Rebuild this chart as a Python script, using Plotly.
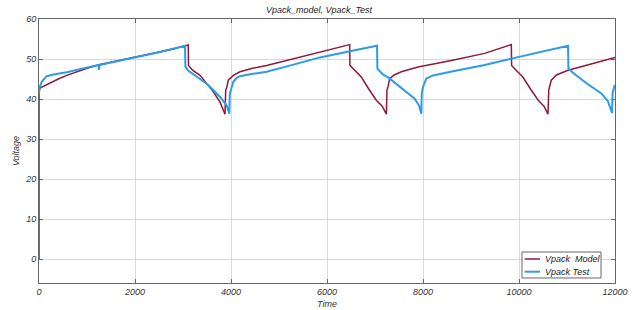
import plotly.graph_objects as go

# Model series (time, voltage)
t_model = [0, 0, 30, 125, 250, 400, 577, 800, 1000, 1271, 1600, 2000, 2500, 2800, 3076, 3110,
           3115, 3200, 3354, 3500, 3632, 3771, 3875, 3890, 3910, 3944, 4050, 4187, 4450, 4743,
           5300, 5854, 6200, 6472, 6478, 6560, 6715, 6870, 7027, 7150, 7236, 7250, 7270, 7306,
           7400, 7548, 7896, 8590, 9285, 9840, 9846, 9930, 10080, 10240, 10400, 10520, 10604,
           10620, 10640, 10673, 10780, 11021, 11368, 12000]
v_model = [0, 42.2, 42.8, 43.4, 44.2, 45.0, 45.9, 46.9, 47.7, 48.6, 49.4, 50.4, 51.7, 52.5, 53.4, 53.5,
           48.4, 47.2, 45.9, 43.8, 41.8, 39.2, 36.2, 42.3, 42.8, 44.7, 45.9, 46.8, 47.7, 48.4,
           50.1, 51.8, 52.8, 53.6, 48.4, 47.4, 45.5, 42.5, 39.7, 38.2, 36.2, 42.3, 43.0, 45.1,
           46.0, 46.8, 48.0, 49.6, 51.4, 53.6, 48.4, 47.3, 45.5, 42.5, 39.7, 38.2, 36.2,
           42.3, 43.0, 44.7, 46.0, 47.2, 48.3, 50.4]

# Test series (time, voltage)
t_test = [0, 20, 56, 160, 300, 577, 900, 1240, 1250, 1260, 1600, 2000, 2500, 3042,
          3050, 3100, 3146, 3300, 3493, 3650, 3771, 3910, 3965, 3975, 4000, 4048, 4120, 4187,
          4400, 4743, 5300, 5854, 6500, 7042, 7050, 7150, 7306, 7550, 7827, 7920, 7965,
          7975, 8000, 8069, 8208, 8600, 9285, 9840, 10400, 11021, 11030, 11150, 11400,
          11715, 11850, 11938, 11950, 11993]
v_test = [41.5, 43.2, 44.3, 45.7, 46.1, 46.7, 47.6, 48.5, 47.3, 48.5, 49.4, 50.4, 51.7, 53.3,
          48.1, 47.2, 46.8, 45.3, 43.8, 42.0, 40.5, 38.4, 36.3, 41.3, 42.5, 44.3, 45.3, 45.7,
          46.2, 46.8, 48.6, 50.4, 52.0, 53.3, 47.6, 46.3, 45.1, 42.8, 40.1, 38.3, 36.3,
          41.5, 43.0, 45.1, 45.9, 46.9, 48.5, 50.1, 51.6, 53.3, 47.6, 46.3, 44.0,
          41.4, 39.5, 36.5, 41.5, 43.5]

x_ticks = [0, 2000, 4000, 6000, 8000, 10000, 12000]
y_ticks = [0, 10, 20, 30, 40, 50, 60]

series_names = ["Vpack  Model", "Vpack Test"]
series_colors = ["#8E1A3A", "#2B9BEA"]
series_widths = [1.5, 2]

FONT = "Liberation Sans, Arial, sans-serif"

fig = go.Figure()
fig.add_trace(go.Scatter(x=t_model, y=v_model, mode="lines", name=series_names[0],
                         line=dict(color=series_colors[0], width=series_widths[0])))
fig.add_trace(go.Scatter(x=t_test, y=v_test, mode="lines", name=series_names[1],
                         line=dict(color=series_colors[1], width=series_widths[1])))

axis_common = dict(
    showline=True, linecolor="#666666", linewidth=1, mirror="ticks",
    showgrid=True, gridcolor="#d9d9d9", gridwidth=1,
    ticks="inside", ticklen=4, tickcolor="#666666",
    tickfont=dict(family=FONT, size=9, color="#333333", style="italic"),
    zeroline=False, automargin=False, layer="below traces",
)

# Compact MATLAB-style legend drawn in paper coordinates
shapes = [dict(type="rect", xref="paper", yref="paper", x0=0.8385, x1=0.9757, y0=0.019, y1=0.1174,
               line=dict(color="#666666", width=1), fillcolor="white", layer="above")]
annotations = []
for i, yy in enumerate([0.0909, 0.0428]):
    shapes.append(dict(type="line", xref="paper", yref="paper", x0=0.8432, x1=0.8698, y0=yy, y1=yy,
                       line=dict(color=series_colors[i], width=series_widths[i]), layer="above"))
    annotations.append(dict(text=series_names[i].replace("  ", "&nbsp; "), xref="paper", yref="paper",
                            x=0.8752, y=yy, xanchor="left", yanchor="middle", showarrow=False,
                            font=dict(family=FONT, size=9, color="#222222", style="italic")))

fig.update_layout(
    width=638, height=310,
    margin=dict(l=39, r=23, t=19, b=27),
    paper_bgcolor="white", plot_bgcolor="white",
    title=dict(text="Vpack_model, Vpack_Test", x=0.5, xanchor="center", y=0.978, yanchor="top",
               font=dict(family=FONT, size=9, color="#222222", style="italic")),
    xaxis=dict(range=[0, 12000], tickvals=x_ticks, ticktext=[str(v) for v in x_ticks],
               title=dict(text="Time", standoff=4,
                          font=dict(family=FONT, size=9, color="#333333", style="italic")),
               **axis_common),
    yaxis=dict(range=[-6, 60], tickvals=y_ticks, ticktext=[str(v) for v in y_ticks],
               title=dict(text="Voltage", standoff=4,
                          font=dict(family=FONT, size=9, color="#333333", style="italic")),
               **axis_common),
    shapes=shapes,
    annotations=annotations,
    showlegend=False,
)

fig.write_html("out.html", config={"displayModeBar": False},
               post_script="document.body.style.margin='0';document.body.style.overflow='hidden';")
